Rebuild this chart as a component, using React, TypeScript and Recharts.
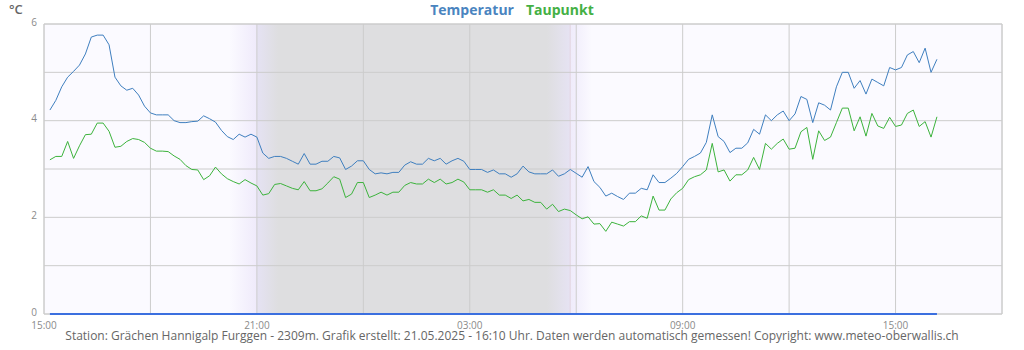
import React from 'react';
import {
  LineChart,
  Line,
  XAxis,
  YAxis,
  CartesianGrid,
  ReferenceArea,
  ReferenceLine,
} from 'recharts';

// 10-minute readings, first one at 15:10, last one at 16:10 next day
const temperatur = [
  4.22, 4.42, 4.7, 4.9, 5.02, 5.15, 5.38, 5.73, 5.77, 5.77,
  5.57, 4.9, 4.72, 4.63, 4.67, 4.53, 4.3, 4.16, 4.12, 4.12,
  4.12, 4.0, 3.96, 3.96, 3.98, 3.99, 4.1, 4.04, 3.97, 3.8,
  3.67, 3.61, 3.72, 3.66, 3.72, 3.66, 3.33, 3.22, 3.26, 3.26,
  3.22, 3.16, 3.1, 3.32, 3.1, 3.1, 3.16, 3.16, 3.26, 3.23,
  2.99, 3.06, 3.17, 3.17, 2.99, 2.9, 2.92, 2.9, 2.93, 2.93,
  3.08, 3.15, 3.1, 3.1, 3.22, 3.17, 3.22, 3.1, 3.17, 3.22,
  3.16, 2.99, 2.99, 2.99, 2.93, 2.98, 2.9, 2.9, 2.83, 2.9,
  3.06, 2.94, 2.9, 2.9, 2.9, 2.98, 2.85, 2.9, 2.99, 2.91,
  2.83, 3.05, 2.74, 2.62, 2.44, 2.5, 2.43, 2.37, 2.5, 2.5,
  2.6, 2.57, 2.88, 2.72, 2.72, 2.81, 2.91, 3.05, 3.2, 3.26,
  3.33, 3.55, 4.12, 3.67, 3.57, 3.34, 3.43, 3.43, 3.54, 3.82,
  3.72, 4.12, 4.0, 4.12, 4.2, 4.0, 4.14, 4.5, 4.44, 3.96,
  4.37, 4.32, 4.22, 4.7, 5.0, 5.0, 4.67, 4.83, 4.55, 4.86,
  4.79, 4.72, 5.1, 5.05, 5.1, 5.36, 5.43, 5.2, 5.5, 5.0,
  5.27,
];

const taupunkt = [
  3.19, 3.26, 3.26, 3.57, 3.22, 3.48, 3.71, 3.72, 3.95, 3.95,
  3.78, 3.45, 3.47, 3.57, 3.63, 3.61, 3.55, 3.43, 3.37, 3.37,
  3.36, 3.27, 3.2, 3.07, 2.99, 2.98, 2.78, 2.86, 3.04, 2.9,
  2.8, 2.74, 2.69, 2.78, 2.71, 2.65, 2.46, 2.49, 2.68, 2.7,
  2.65, 2.6, 2.57, 2.74, 2.55, 2.55, 2.59, 2.71, 2.84, 2.79,
  2.41, 2.48, 2.72, 2.72, 2.41, 2.46, 2.52, 2.46, 2.52, 2.52,
  2.66, 2.72, 2.69, 2.69, 2.79, 2.72, 2.79, 2.69, 2.72, 2.79,
  2.73, 2.57, 2.57, 2.57, 2.52, 2.57, 2.46, 2.46, 2.39, 2.46,
  2.34, 2.37, 2.31, 2.31, 2.17, 2.27, 2.12, 2.17, 2.14, 2.05,
  1.97, 2.01, 1.86, 1.87, 1.71, 1.9, 1.86, 1.82, 1.91, 1.91,
  2.03, 1.98, 2.44, 2.15, 2.15, 2.38, 2.51, 2.6, 2.78, 2.84,
  2.88, 2.98, 3.53, 2.94, 2.98, 2.75, 2.88, 2.88, 2.98, 3.24,
  2.99, 3.53, 3.41, 3.53, 3.62, 3.41, 3.43, 3.77, 3.86, 3.2,
  3.79, 3.59, 3.66, 3.96, 4.26, 4.26, 3.79, 4.08, 3.68, 4.15,
  3.89, 3.84, 4.07, 3.88, 3.91, 4.15, 4.22, 3.88, 3.98, 3.66,
  4.08,
];

// hours after 15:00
const xTicks = [0, 3, 6, 9, 12, 15, 18, 21, 24, 27];
const xTickLabels: Record<number, string> = { 0: '15:00', 6: '21:00', 12: '03:00', 18: '09:00', 24: '15:00' };
const yTicks = [0, 1, 2, 3, 4, 5, 6];
const yTickLabels = [0, 2, 4, 6];

const sunset = 6.0; // 21:00
const sunrise = 14.83; // 05:50

const data = temperatur.map((v, i) => ({
  t: (i + 1) / 6,
  temperatur: v,
  taupunkt: taupunkt[i],
}));

const FONT = '"Open Sans", sans-serif';

const XTick = ({ x, y, payload }: any) => (
  <text x={x} y={y + 15} textAnchor="middle" fontSize={10} fill="#8a8a8a" fontFamily={FONT}>
    {xTickLabels[payload.value] ?? ''}
  </text>
);

const YTick = ({ x, y, payload }: any) => (
  <text x={x} y={y + 1.5} textAnchor="end" fontSize={10} fill="#8a8a8a" fontFamily={FONT}>
    {yTickLabels.includes(payload.value) ? payload.value : ''}
  </text>
);

const nightStart = 5.24;
const nightEnd = 15.44;
const off = (t: number) => `${(((t - nightStart) / (nightEnd - nightStart)) * 100).toFixed(2)}%`;

export default function App() {
  return (
    <div style={{ position: 'absolute', left: 0, top: 0, width: 1024, height: 350, background: '#fff', fontFamily: FONT }}>
      <div style={{ position: 'absolute', left: 9, top: 0, fontSize: 13, fontWeight: 600, color: '#666', lineHeight: '18px' }}>°C</div>
      <div style={{ position: 'absolute', left: 0, top: 0, width: 1024, textAlign: 'center', fontSize: 14, fontWeight: 700, lineHeight: '20px' }}>
        <span style={{ color: '#4a84bf', marginRight: 12 }}>Temperatur</span>
        <span style={{ color: '#44b044' }}>Taupunkt</span>
      </div>
      <LineChart width={1024} height={350} data={data} margin={{ top: 24, right: 22, bottom: 0, left: 0 }}>
        <defs>
          <linearGradient id="night" x1="0" y1="0" x2="1" y2="0">
            <stop offset="0%" stopColor="#fbfaff" />
            <stop offset={off(sunset)} stopColor="#efeafb" />
            <stop offset={off(sunset + 0.01)} stopColor="#e5e2f3" />
            <stop offset={off(6.6)} stopColor="#dedee0" />
            <stop offset={off(14.17)} stopColor="#dedee0" />
            <stop offset={off(sunrise)} stopColor="#e6e3f3" />
            <stop offset={off(sunrise + 0.01)} stopColor="#efebfb" />
            <stop offset="100%" stopColor="#fbfaff" />
          </linearGradient>
        </defs>
        <ReferenceArea x1={0} x2={27} y1={0} y2={6} fill="#fbfaff" fillOpacity={1} stroke="none" zIndex={-300} />
        <ReferenceArea x1={nightStart} x2={nightEnd} y1={0} y2={6} fill="url(#night)" fillOpacity={1} stroke="none" zIndex={-250} />
        <ReferenceLine x={sunrise} stroke="#e3d6df" strokeWidth={1} zIndex={-200} />
        <CartesianGrid stroke="#cccccc" fill="none" />
        <ReferenceArea x1={0} x2={27} y1={0} y2={6} fill="none" stroke="#cccccc" />
        <XAxis
          type="number"
          dataKey="t"
          domain={[0, 27]}
          ticks={xTicks}
          interval={0}
          height={36}
          tickSize={0}
          tickMargin={0}
          axisLine={false}
          tickLine={false}
          tick={<XTick />}
        />
        <YAxis
          domain={[0, 6]}
          ticks={yTicks}
          interval={0}
          width={44}
          tickSize={0}
          tickMargin={7}
          axisLine={false}
          tickLine={false}
          tick={<YTick />}
        />
        <ReferenceLine
          segment={[
            { x: data[0].t, y: 0 },
            { x: data[data.length - 1].t, y: 0 },
          ]}
          stroke="#3b6fdf"
          strokeWidth={2}
        />
        <Line type="linear" dataKey="temperatur" stroke="#3f7fbf" strokeWidth={1} dot={false} isAnimationActive={false} />
        <Line type="linear" dataKey="taupunkt" stroke="#3cb33c" strokeWidth={1} dot={false} isAnimationActive={false} />
      </LineChart>
      <div style={{ position: 'absolute', left: 0, top: 327, width: 1024, textAlign: 'center', fontSize: 12, color: '#666', lineHeight: '18px' }}>
        Station: Grächen Hannigalp Furggen - 2309m. Grafik erstellt: 21.05.2025 - 16:10 Uhr. Daten werden automatisch gemessen! Copyright: www.meteo-oberwallis.ch
      </div>
    </div>
  );
}
